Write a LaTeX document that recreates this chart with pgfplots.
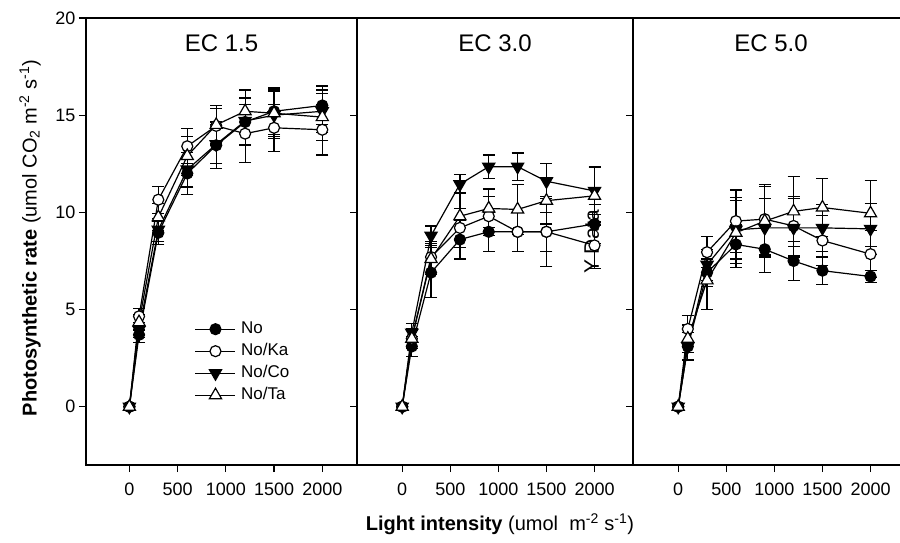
\documentclass[border=0pt]{standalone}
\usepackage{fontspec}
\setmainfont{Liberation Sans}
\usepackage{pgfplots}
\pgfplotsset{compat=1.18}

\tikzset{ptitle/.style={font=\fontsize{24}{26}\selectfont}}
\pgfplotsset{
  panel/.style={
    scale only axis, width=276pt, height=447pt,
    xmin=-470, xmax=2400, ymin=-3, ymax=20,
    xtick={0,500,1000,1500,2000}, ytick={0,5,10,15,20},
    tick align=outside, xtick pos=bottom, ytick pos=left,
    major tick length=7pt,
    axis line style={line width=1.2pt},
    every tick/.style={line width=1.2pt, black},
    ticklabel style={font=\fontsize{18}{20}\selectfont},
    xticklabel style={yshift=-7pt},
    /pgf/number format/assume math mode=true,
    /pgf/number format/1000 sep={},
    clip=false,
  },
  ser/.style={black, line width=1.2pt,
    error bars/y dir=both, error bars/y explicit,
    error bars/error bar style={line width=1.2pt, black},
    error bars/error mark options={rotate=90, mark size=6pt, line width=1.2pt, black}},
  sNo/.style={ser, mark=*, mark size=5.5pt, mark options={solid, fill=black}},
  sKa/.style={ser, mark=*, mark size=5.5pt, mark options={solid, fill=white}},
  sCo/.style={ser, mark=triangle*, mark size=7pt, mark options={solid, fill=black, rotate=180}},
  sTa/.style={ser, mark=triangle*, mark size=7pt, mark options={solid, fill=white}},
}

\begin{document}
\begin{tikzpicture}
% EC 1.5
\begin{axis}[panel, width=271pt, xmin=-450, xmax=2360, name=p1,
  legend style={draw=none, fill=none, at={(0.39,0.33)}, anchor=north west,
    font=\fontsize{17}{19}\selectfont, row sep=3pt,
    nodes={inner ysep=2pt, inner xsep=5pt, text height=12pt, text depth=3pt}},
  legend cell align=left,
  legend image code/.code={\draw[mark repeat=2,mark phase=2]
    plot coordinates {(0pt,0pt) (20pt,0pt) (40pt,0pt)};}]
\addplot[sNo] coordinates {(0,0) +- (0,0) (100,3.7) +- (0,0.4) (300,8.95) +- (0,0.6) (600,12.0) +- (0,1.1)
  (900,13.45) +- (0,1.2) (1200,14.65) +- (0,1.2) (1500,15.2) +- (0,1.2) (2000,15.5) +- (0,1.0)};
\addplot[sKa] coordinates {(0,0) +- (0,0) (100,4.65) +- (0,0.4) (300,10.65) +- (0,0.7) (600,13.4) +- (0,0.9)
  (900,14.45) +- (0,0.9) (1200,14.05) +- (0,1.5) (1500,14.35) +- (0,1.2) (2000,14.25) +- (0,1.3)};
\addplot[sCo] coordinates {(0,0) +- (0,0) (100,3.95) +- (0,0.4) (300,9.1) +- (0,0.6) (600,12.2) +- (0,0.9)
  (900,13.5) +- (0,1.0) (1200,14.7) +- (0,1.2) (1500,15.0) +- (0,1.2) (2000,15.2) +- (0,1.1)};
\addplot[sTa] coordinates {(0,0) +- (0,0) (100,4.35) +- (0,0.4) (300,9.75) +- (0,0.7) (600,12.9) +- (0,1.0)
  (900,14.5) +- (0,1.0) (1200,15.2) +- (0,1.1) (1500,15.1) +- (0,1.2) (2000,14.9) +- (0,1.2)};
\legend{No, No/Ka, No/Co, No/Ta}
\node[ptitle] at (axis description cs:0.5,0.944) {EC 1.5};
\end{axis}

% EC 3.0
\begin{axis}[panel, at={(271pt,0pt)}, yticklabels={}, name=p2]
\node[rotate=90, font=\fontsize{21}{23}\selectfont] at (axis cs:1972,8.48) {Y Data};
\addplot[sNo] coordinates {(0,0) +- (0,0) (100,3.1) +- (0,0.5) (300,6.9) +- (0,1.3) (600,8.6) +- (0,1.0)
  (900,9.0) +- (0,1.0) (1200,9.0) +- (0,1.0) (1500,9.0) +- (0,1.0) (2000,9.4) +- (0,1.0)};
\addplot[sKa] coordinates {(0,0) +- (0,0) (100,3.5) +- (0,0.5) (300,7.7) +- (0,0.8) (600,9.2) +- (0,1.0)
  (900,9.8) +- (0,1.0) (1200,9.0) +- (0,1.0) (1500,9.0) +- (0,1.8) (2000,8.3) +- (0,1.2)};
\addplot[sCo] coordinates {(0,0) +- (0,0) (100,3.8) +- (0,0.5) (300,8.8) +- (0,0.5) (600,11.45) +- (0,0.5)
  (900,12.35) +- (0,0.6) (1200,12.35) +- (0,0.7) (1500,11.6) +- (0,0.9) (2000,11.1) +- (0,1.2)};
\addplot[sTa] coordinates {(0,0) +- (0,0) (100,3.5) +- (0,0.5) (300,7.6) +- (0,0.8) (600,9.8) +- (0,1.2)
  (900,10.2) +- (0,1.0) (1200,10.15) +- (0,1.3) (1500,10.6) +- (0,1.2) (2000,10.85) +- (0,1.5)};
\node[ptitle] at (axis description cs:0.5,0.944) {EC 3.0};
\end{axis}

% EC 5.0
\begin{axis}[panel, at={(547pt,0pt)}, yticklabels={}, name=p3]
\addplot[sNo] coordinates {(0,0) +- (0,0) (100,3.1) +- (0,0.7) (300,6.9) +- (0,0.7) (600,8.35) +- (0,1.0)
  (900,8.1) +- (0,1.2) (1200,7.5) +- (0,1.0) (1500,7.0) +- (0,0.7) (2000,6.7) +- (0,0.3)};
\addplot[sKa] coordinates {(0,0) +- (0,0) (100,4.0) +- (0,0.7) (300,7.95) +- (0,0.8) (600,9.55) +- (0,1.6)
  (900,9.65) +- (0,1.8) (1200,9.3) +- (0,1.5) (1500,8.55) +- (0,1.3) (2000,7.85) +- (0,1.2)};
\addplot[sCo] coordinates {(0,0) +- (0,0) (100,3.1) +- (0,0.7) (300,7.3) +- (0,0.8) (600,9.1) +- (0,1.5)
  (900,9.2) +- (0,1.5) (1200,9.2) +- (0,1.5) (1500,9.2) +- (0,1.2) (2000,9.15) +- (0,1.3)};
\addplot[sTa] coordinates {(0,0) +- (0,0) (100,3.5) +- (0,0.7) (300,6.5) +- (0,1.5) (600,8.95) +- (0,1.8)
  (900,9.55) +- (0,1.8) (1200,10.05) +- (0,1.8) (1500,10.25) +- (0,1.5) (2000,9.95) +- (0,1.7)};
\node[ptitle] at (axis description cs:0.5,0.944) {EC 5.0};
\end{axis}

\node[font=\fontsize{20}{22}\selectfont] at (414pt,-59pt)
  {\textbf{Light intensity} (umol\ \ m\textsuperscript{-2} s\textsuperscript{-1})};
\node[rotate=90, font=\fontsize{20}{22}\selectfont] at (-56pt,227pt)
  {\textbf{Photosynthetic rate} (umol CO\textsubscript{2} m\textsuperscript{-2} s\textsuperscript{-1})};

\pgfresetboundingbox
\path (-86pt,-77pt) rectangle (814pt,465pt);
\end{tikzpicture}
\end{document}
